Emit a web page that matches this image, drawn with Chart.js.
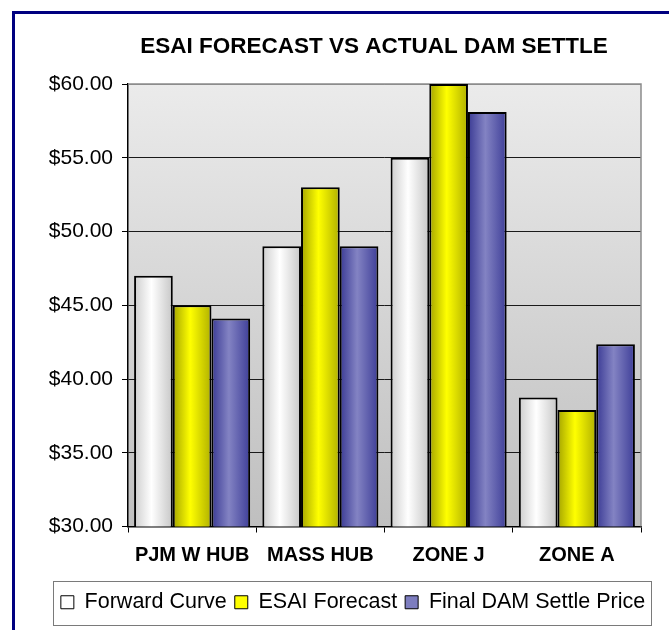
<!DOCTYPE html>
<html>
<head>
<meta charset="utf-8">
<script src="https://cdn.jsdelivr.net/npm/chart.js@4.4.1/dist/chart.umd.min.js"></script>
<style>
    html, body { margin: 0; padding: 0; background: #fff; }
    #wrap { width: 669px; height: 630px; }
</style>
</head>
<body>
<div id="wrap"><canvas id="chart" width="669" height="630"></canvas></div>
<script>
const chartTitle = "ESAI FORECAST VS ACTUAL DAM SETTLE";
const categories = ["PJM W HUB", "MASS HUB", "ZONE J", "ZONE A"];
const forwardCurve = [47.0, 49.0, 55.0, 38.75];
const esaiForecast = [45.0, 53.0, 60.0, 37.9];
const finalDamSettle = [44.1, 49.0, 58.1, 42.35];
const yTicks = [30, 35, 40, 45, 50, 55, 60];

const FONT = "'Liberation Sans', Arial, sans-serif";

// left edge / centre / right edge of each bar, cylinder look
const barShades = [
    ["#cdcdcd", "#ffffff", "#c6c6c6"],
    ["#a4a400", "#ffff00", "#b0b000"],
    ["#3a3a94", "#8383c3", "#3e3e98"],
];

const frame = {
    id: "frame",
    beforeDraw(chart) {
        const ctx = chart.ctx;
        const a = chart.chartArea;
        ctx.save();
        ctx.fillStyle = "#fff";
        ctx.fillRect(0, 0, chart.width, chart.height);
        ctx.strokeStyle = "#000080";
        ctx.lineWidth = 3;
        ctx.strokeRect(13.5, 12.5, chart.width + 20, chart.height + 20);
        const g = ctx.createLinearGradient(0, a.top, 0, a.bottom);
        g.addColorStop(0, "#ebebeb");
        g.addColorStop(1, "#bfbfbf");
        ctx.fillStyle = g;
        ctx.fillRect(a.left, a.top, a.right - a.left, a.bottom - a.top);
        ctx.restore();
    },
    beforeDatasetsDraw(chart) {
        const ctx = chart.ctx;
        const a = chart.chartArea;
        ctx.save();
        ctx.strokeStyle = "#8c8c8c";
        ctx.lineWidth = 1.5;
        ctx.beginPath();
        ctx.moveTo(a.left, a.top);
        ctx.lineTo(a.right, a.top);
        ctx.lineTo(a.right, a.bottom);
        ctx.stroke();
        ctx.restore();

        // horizontal gradient per bar
        chart.data.datasets.forEach((ds, i) => {
            const s = barShades[i];
            chart.getDatasetMeta(i).data.forEach((bar) => {
                const g = ctx.createLinearGradient(bar.x - bar.width / 2, 0, bar.x + bar.width / 2, 0);
                g.addColorStop(0, s[0]);
                g.addColorStop(0.45, s[1]);
                g.addColorStop(1, s[2]);
                bar.options = Object.assign({}, bar.options, { backgroundColor: g });
            });
        });
    },
    afterDraw(chart) {
        const ctx = chart.ctx;
        ctx.save();
        // title, centred over the whole (clipped) chart frame
        ctx.fillStyle = "#000";
        ctx.font = "bold 22.5px " + FONT;
        ctx.textAlign = "center";
        ctx.textBaseline = "middle";
        ctx.fillText(chartTitle, 374, 47);

        // legend frame
        const boxes = chart.legend.legendHitBoxes;
        if (boxes && boxes.length) {
            const left = Math.min(...boxes.map((b) => b.left)) - 8;
            const right = Math.max(...boxes.map((b) => b.left + b.width)) + 6;
            const top = Math.min(...boxes.map((b) => b.top)) - 11;
            const bottom = Math.max(...boxes.map((b) => b.top + b.height)) + 11;
            ctx.strokeStyle = "#7a7a7a";
            ctx.lineWidth = 1;
            ctx.strokeRect(Math.round(left) + 0.5, Math.round(top) + 0.5, Math.round(right - left), Math.round(bottom - top));
        }
        ctx.restore();
    },
};

const data = {
    labels: categories,
    datasets: [
        { label: "Forward Curve", data: forwardCurve, backgroundColor: "#ffffff" },
        { label: "ESAI Forecast", data: esaiForecast, backgroundColor: "#ffff00" },
        { label: "Final DAM Settle Price", data: finalDamSettle, backgroundColor: "#7d7dbf" },
    ],
};

const config = {
    type: "bar",
    data: data,
    options: {
        responsive: false,
        animation: false,
        devicePixelRatio: 1,
        layout: { padding: { left: 45, right: 8, top: 84, bottom: 7 } },
        datasets: {
            bar: {
                borderColor: "#000",
                borderWidth: 2,
                borderSkipped: false,
                categoryPercentage: 0.905,
                barPercentage: 1.0,
            },
        },
        plugins: {
            title: { display: false },
            legend: {
                position: "bottom",
                align: "center",
                labels: {
                    color: "#000",
                    font: { family: FONT, size: 21.5 },
                    boxWidth: 13,
                    boxHeight: 13,
                    padding: 8,
                    generateLabels: (chart) =>
                        Chart.defaults.plugins.legend.labels.generateLabels(chart).map((l) => ({
                            ...l,
                            lineWidth: 1,
                            strokeStyle: "#000",
                        })),
                },
            },
            tooltip: { enabled: false },
        },
        scales: {
            x: {
                afterFit: (s) => { s.height = 57; },
                border: { display: true, color: "#000", width: 1.5 },
                grid: {
                    offset: true,
                    drawOnChartArea: false,
                    drawTicks: true,
                    tickLength: 6,
                    color: "#000",
                },
                ticks: {
                    color: "#000",
                    font: { family: FONT, size: 20, weight: "bold" },
                    padding: 11,
                    maxRotation: 0,
                    autoSkip: false,
                },
            },
            y: {
                min: yTicks[0],
                max: yTicks[yTicks.length - 1],
                afterFit: (s) => { s.width = 83; },
                border: { display: true, color: "#000", width: 1.5 },
                grid: {
                    color: (c) => (c.tick && c.tick.value === yTicks[yTicks.length - 1] ? "#8c8c8c" : "#1a1a1a"),
                    tickColor: "#000",
                    tickLength: 6,
                    lineWidth: 1,
                },
                ticks: {
                    stepSize: yTicks[1] - yTicks[0],
                    color: "#000",
                    font: { family: FONT, size: 21 },
                    padding: 9,
                    callback: (v) => "$" + v.toFixed(2),
                },
            },
            y2: {
                position: "right",
                display: true,
                afterFit: (s) => { s.width = 20; },
                grid: { display: false },
                border: { display: false },
                ticks: { display: false },
            },
        },
    },
    plugins: [frame],
};

const chart = new Chart(document.getElementById("chart"), config);
</script>
</body>
</html>
